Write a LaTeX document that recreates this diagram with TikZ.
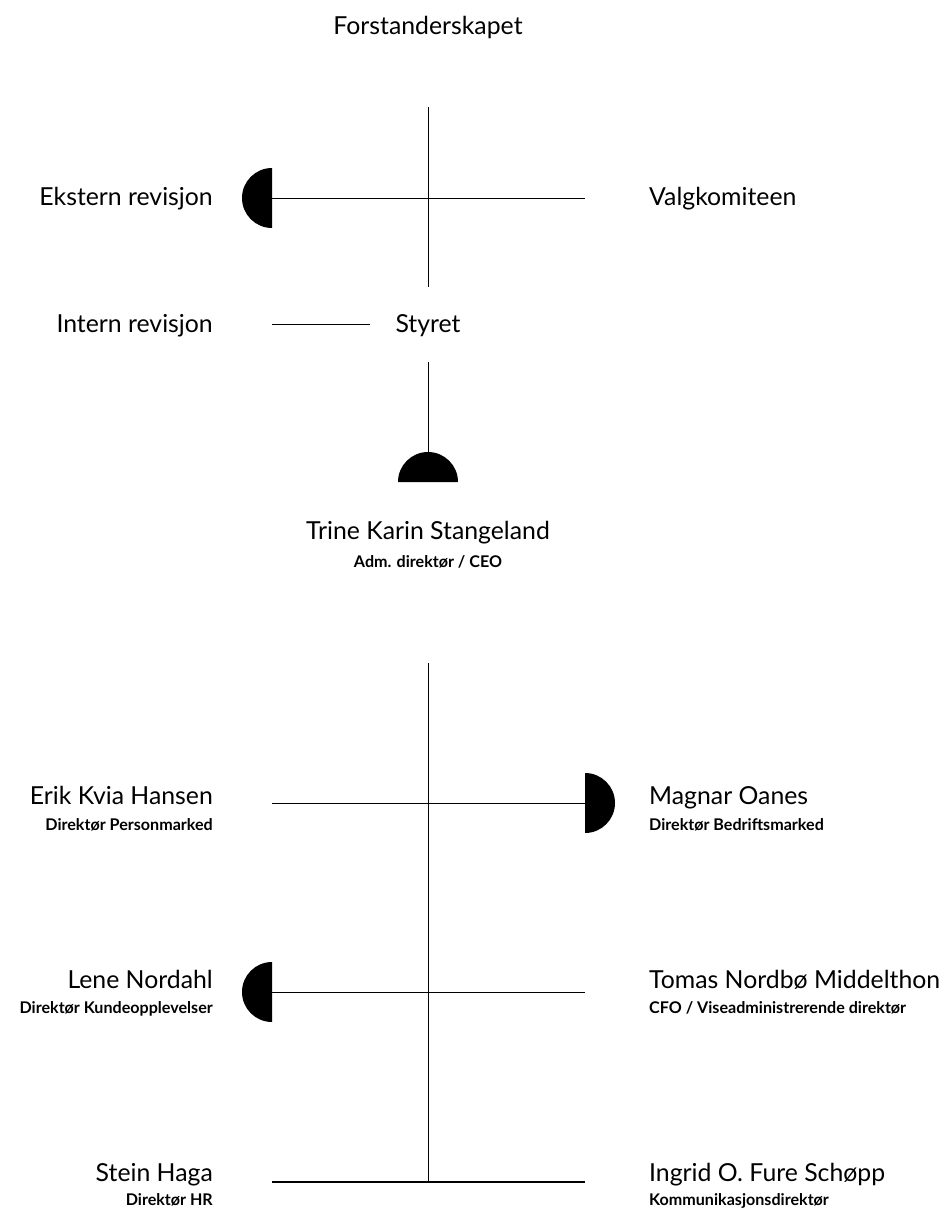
\documentclass[tikz,border=0pt]{standalone}
\usepackage{fontspec}
\setmainfont{Lato}
\usepackage{tikz}

\begin{document}
\begin{tikzpicture}[x=1pt,y=1pt,
    navn/.style={inner sep=0pt,font=\fontsize{24.8}{28}\selectfont},
    tittel/.style={inner sep=0pt,font=\bfseries\fontsize{16.1}{18}\selectfont},
    tynn/.style={line width=0.7pt},
    linje/.style={line width=1pt},
    tykk/.style={line width=1.6pt}]
          \useasboundingbox (0,0) rectangle (949,-1210);
          % Forstanderskapet
          \node[navn,anchor=base] (forst) at (428,-34) {Forstanderskapet};
          % revisjon og valgkomite
          \coordinate (v1top) at (428,-107);
          \coordinate (v1bot) at (428,-287);
          \coordinate (h1l) at (272,-198);
          \coordinate (h1r) at (585,-198);
          \draw[tynn] (v1top) -- (v1bot);
          \draw[linje] (h1l) -- (h1r);
          \fill (h1l) ++(0,30) arc[start angle=90,end angle=270,radius=30] -- cycle;
          \node[navn,anchor=base east] (ekstern) at (213,-205) {Ekstern revisjon};
          \node[navn,anchor=base west] (valg) at (649,-205) {Valgkomiteen};
          % Styret
          \node[navn,anchor=base east] (intern) at (213,-332) {Intern revisjon};
          \node[navn,anchor=base] (styret) at (428,-332) {Styret};
          \coordinate (h2l) at (272,-324);
          \coordinate (h2r) at (370,-324);
          \draw[tynn] (h2l) -- (h2r);
          % CEO
          \coordinate (v2top) at (428,-362);
          \coordinate (ceo) at (428,-482);
          \draw[tynn] (v2top) -- (ceo);
          \fill (ceo) ++(30,0) arc[start angle=0,end angle=180,radius=30] -- cycle;
          \node[navn,anchor=base] (trine) at (428,-539) {Trine Karin Stangeland};
          \node[tittel,anchor=base] (trinet) at (428,-567) {Adm. direktør / CEO};
          % ledergruppen
          \coordinate (v3top) at (428,-663);
          \coordinate (v3bot) at (428,-1182);
          \draw[tynn] (v3top) -- (v3bot);
          % Personmarked og Bedriftsmarked
          \coordinate (h3l) at (272,-803);
          \coordinate (h3r) at (585,-803);
          \draw[linje] (h3l) -- (h3r);
          \fill (h3r) ++(0,30) arc[start angle=90,end angle=-90,radius=30] -- cycle;
          \node[navn,anchor=base east] (erik) at (213,-804) {Erik Kvia Hansen};
          \node[tittel,anchor=base east] (erikt) at (213,-830) {Direktør Personmarked};
          \node[navn,anchor=base west] (magnar) at (649,-804) {Magnar Oanes};
          \node[tittel,anchor=base west] (magnart) at (649,-830) {Direktør Bedriftsmarked};
          % Kundeopplevelser og CFO
          \coordinate (h4l) at (272,-992);
          \coordinate (h4r) at (585,-992);
          \draw[linje] (h4l) -- (h4r);
          \fill (h4l) ++(0,30) arc[start angle=90,end angle=270,radius=30] -- cycle;
          \node[navn,anchor=base east] (lene) at (213,-988) {Lene Nordahl};
          \node[tittel,anchor=base east] (lenet) at (213,-1013) {Direktør Kundeopplevelser};
          \node[navn,anchor=base west] (tomas) at (649,-988) {Tomas Nordbø Middelthon};
          \node[tittel,anchor=base west] (tomast) at (649,-1013) {CFO / Viseadministrerende direktør};
          % HR og kommunikasjon
          \coordinate (h5l) at (272,-1182);
          \coordinate (h5r) at (585,-1182);
          \draw[tykk] (h5l) -- (h5r);
          \node[navn,anchor=base east] (stein) at (213,-1181) {Stein Haga};
          \node[tittel,anchor=base east] (steint) at (213,-1205) {Direktør HR};
          \node[navn,anchor=base west] (ingrid) at (649,-1181) {Ingrid O. Fure Schøpp};
          \node[tittel,anchor=base west] (ingridt) at (649,-1205) {Kommunikasjonsdirektør};
\end{tikzpicture}
\end{document}
